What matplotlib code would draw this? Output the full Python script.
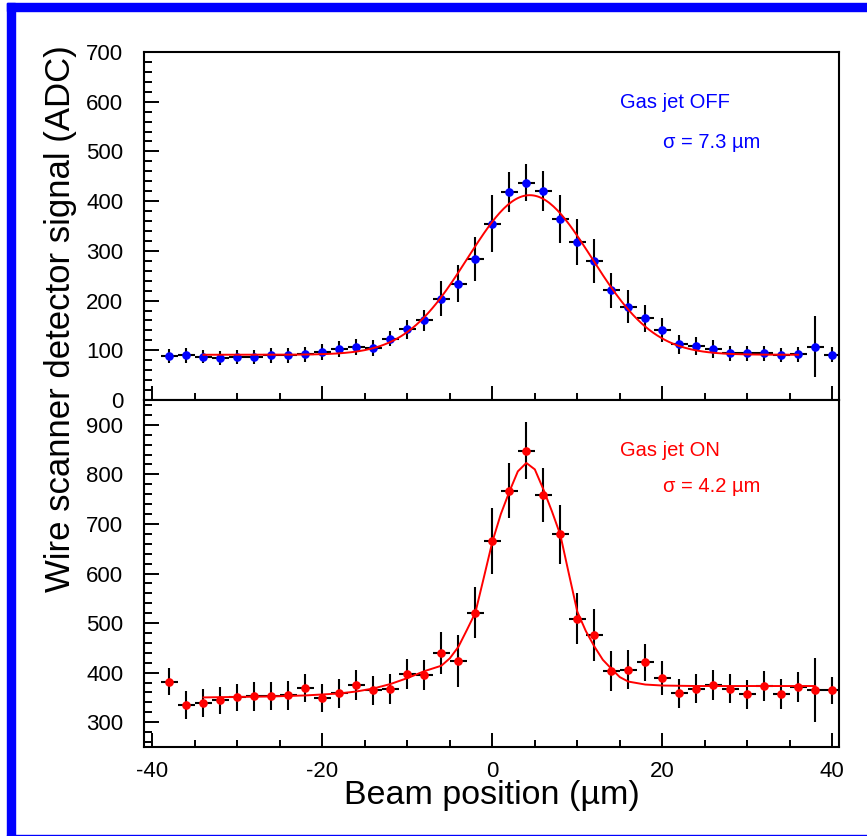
import matplotlib
matplotlib.use("Agg")
import matplotlib.pyplot as plt
import numpy as np
from matplotlib.patches import Rectangle
from matplotlib.ticker import MultipleLocator

plt.rcParams["font.family"] = ["Liberation Sans", "DejaVu Sans"]
plt.rcParams["axes.unicode_minus"] = False

# beam positions (um), bin half-width 1 um
positions = [-38, -36, -34, -32, -30, -28, -26, -24, -22, -20,
             -18, -16, -14, -12, -10, -8, -6, -4, -2, 0,
             2, 4, 6, 8, 10, 12, 14, 16, 18, 20,
             22, 24, 26, 28, 30, 32, 34, 36, 38, 40]

# gas jet OFF
off_signal = [88, 90, 87, 84, 87, 87, 90, 90, 92, 97,
              103, 106, 104, 123, 142, 160, 204, 234, 283, 355,
              418, 437, 421, 364, 318, 280, 221, 188, 164, 140,
              112, 109, 103, 94, 94, 94, 90, 92, 107, 91]
off_err = [14, 15, 13, 14, 14, 14, 15, 15, 15, 16,
           16, 16, 16, 15, 19, 21, 35, 37, 44, 58,
           40, 37, 40, 48, 46, 44, 35, 34, 28, 24,
           19, 18, 18, 15, 15, 15, 14, 15, 61, 15]

# gas jet ON
on_signal = [382, 334, 338, 344, 350, 352, 353, 354, 369, 349,
             358, 375, 364, 367, 397, 395, 440, 423, 521, 666,
             767, 848, 758, 679, 509, 476, 403, 406, 421, 389,
             358, 368, 375, 368, 356, 373, 357, 371, 365, 364]
on_err = [28, 28, 28, 28, 28, 29, 29, 29, 29, 29,
          29, 30, 30, 30, 31, 31, 42, 52, 52, 67,
          55, 57, 54, 59, 52, 53, 40, 40, 37, 34,
          30, 30, 30, 30, 30, 30, 30, 30, 65, 28]

# gaussian fit, gas jet OFF
off_fit_mean, off_fit_sigma, off_fit_amp, off_fit_base = 4.4, 7.3, 321, 91
off_fit_range = (-34, 36)

# fitted curve, gas jet ON
on_fit_x = [-34, -30, -26, -22, -18, -16, -14, -12, -10, -8, -6, -5, -4, -3,
            -2, -1, 0, 1, 2, 3, 4, 5, 6, 7, 8, 9, 10, 11, 12, 13, 14, 15,
            16, 18, 20, 24, 30, 38]
on_fit_y = [350, 351, 352, 354, 358, 362, 368, 377, 389, 403, 414, 429, 452, 486,
            521, 592, 664, 720, 765, 806, 823, 810, 770, 726, 678, 600, 523, 484,
            453, 426, 408, 391, 382, 376, 374, 373, 373, 373]

W, H = 867, 836
fig = plt.figure(figsize=(W / 100, H / 100), dpi=100)

# blue frame
fig.patches.append(Rectangle((7 / W, 0), 8 / W, 1 - 3 / H, transform=fig.transFigure,
                             color="#0000ff", zorder=0))
fig.patches.append(Rectangle((7 / W, 1 - 11 / H), 1, 8 / H, transform=fig.transFigure,
                             color="#0000ff", zorder=0))
fig.patches.append(Rectangle((7 / W, 0), 1, 1.5 / H, transform=fig.transFigure,
                             color="#0000ff", zorder=0))

left, right = 144 / W, 839 / W
ax1 = fig.add_axes([left, 1 - 400 / H, right - left, 348 / H])
ax2 = fig.add_axes([left, 1 - 747 / H, right - left, 347 / H])


def draw_panel(ax, y, yerr, color):
    ax.errorbar(positions, y, xerr=1, yerr=yerr, fmt="none", ecolor="black",
                elinewidth=1.5, capsize=0, zorder=2)
    ax.plot(positions, y, "o", color=color, markersize=5.2, zorder=3)


draw_panel(ax1, off_signal, off_err, "#0000ff")
xf = np.linspace(off_fit_range[0], off_fit_range[1], 300)
yf = off_fit_base + off_fit_amp * np.exp(-(xf - off_fit_mean) ** 2 / (2 * off_fit_sigma ** 2))
ax1.plot(xf, yf, color="#ff0000", lw=1.4, zorder=4)

draw_panel(ax2, on_signal, on_err, "#ff0000")
ax2.plot(on_fit_x, on_fit_y, color="#ff0000", lw=1.4, zorder=4)

for ax in (ax1, ax2):
    ax.set_xlim(-41, 40.8)
    ax.xaxis.set_major_locator(MultipleLocator(20))
    ax.xaxis.set_minor_locator(MultipleLocator(5))
    ax.yaxis.set_major_locator(MultipleLocator(100))
    ax.yaxis.set_minor_locator(MultipleLocator(20))
    ax.tick_params(axis="both", which="both", direction="in", top=False, right=False,
                   width=1.4, labelsize=16)
    ax.tick_params(axis="y", which="major", length=11, pad=15)
    ax.tick_params(axis="y", which="minor", length=5.5)
    ax.tick_params(axis="x", which="major", length=10, pad=10)
    ax.tick_params(axis="x", which="minor", length=5)
    for s in ax.spines.values():
        s.set_linewidth(1.5)

ax1.set_ylim(0, 700)
ax1.tick_params(axis="x", labelbottom=False)
ax2.set_ylim(250, 950)
ax2.set_yticks([300, 400, 500, 600, 700, 800, 900])

ax1.text(620 / W, 1 - 102 / H, "Gas jet OFF", transform=fig.transFigure,
         color="#0000ff", fontsize=14.5, va="center", ha="left")
ax1.text(663 / W, 1 - 142 / H, "σ = 7.3 µm", transform=fig.transFigure,
         color="#0000ff", fontsize=14.5, va="center", ha="left")
ax2.text(620 / W, 1 - 451 / H, "Gas jet ON", transform=fig.transFigure,
         color="#ff0000", fontsize=14.5, va="center", ha="left")
ax2.text(663 / W, 1 - 487 / H, "σ = 4.2 µm", transform=fig.transFigure,
         color="#ff0000", fontsize=14.5, va="center", ha="left")

fig.text(491.5 / W, 1 - 804 / H, "Beam position (µm)", fontsize=24.5,
         ha="center", va="baseline")
fig.text(61 / W, 1 - 45 / H, "Wire scanner detector signal (ADC)", fontsize=25,
         rotation=90, ha="center", va="top")

fig.savefig("out.png", dpi=100)
